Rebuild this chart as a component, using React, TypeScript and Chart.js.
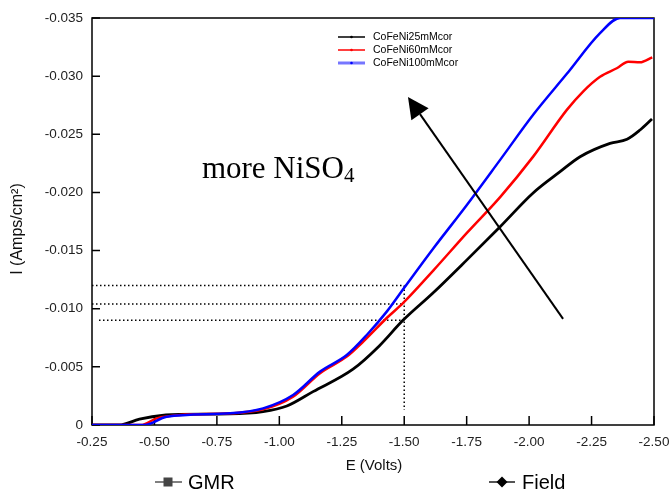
import React, { useEffect, useRef } from 'react';
import { Chart, registerables } from 'chart.js';

Chart.register(...registerables);

// ---------- data ----------
const seriesNames = ['CoFeNi25mMcor', 'CoFeNi60mMcor', 'CoFeNi100mMcor'];
const seriesColors = ['#000000', '#ff0000', '#0000ff'];

const e25 = [-0.25, -0.358, -0.44, -0.546, -0.6, -0.8, -0.935, -1.03, -1.135, -1.295, -1.4, -1.495, -1.615, -1.751, -1.884, -2.016, -2.124, -2.204, -2.324, -2.392, -2.444, -2.492];
const i25 = [0, 0, -0.0005, -0.00086, -0.00092, -0.00095, -0.00115, -0.00163, -0.00287, -0.0048, -0.0068, -0.009, -0.01135, -0.0142, -0.01705, -0.01995, -0.02178, -0.02307, -0.02422, -0.02457, -0.02537, -0.02632];

const e60 = [-0.25, -0.445, -0.509, -0.602, -0.803, -0.935, -1.055, -1.163, -1.27, -1.336, -1.43, -1.496, -1.617, -1.75, -1.884, -2.017, -2.151, -2.217, -2.284, -2.351, -2.397, -2.444, -2.493];
const i60 = [0, 0, -0.00057, -0.00086, -0.001, -0.00135, -0.00244, -0.00446, -0.00588, -0.00717, -0.0092, -0.0105, -0.0133, -0.0165, -0.0196, -0.0231, -0.0271, -0.0287, -0.02995, -0.03068, -0.03124, -0.03119, -0.03162];

const e100 = [-0.25, -0.46, -0.549, -0.803, -0.935, -1.055, -1.163, -1.27, -1.35, -1.43, -1.5, -1.617, -1.75, -1.884, -2.017, -2.151, -2.284, -2.364, -2.5];
const i100 = [0, 0, -0.00071, -0.001, -0.00143, -0.00258, -0.00459, -0.00602, -0.00774, -0.00975, -0.0118, -0.0152, -0.0189, -0.0228, -0.0267, -0.0302, -0.0337, -0.035, -0.035];

const xMin = -2.5;
const xMax = -0.25;
const xStep = 0.25;
const yMin = -0.035;
const yMax = 0;
const yStep = 0.005;

const xTitle = 'E (Volts)';
const yTitle = 'I (Amps/cm²)';

// dotted guide lines
const guideE = -1.5;
const guideLevels = [-0.012, -0.0104, -0.009];
const guideStarts = [-0.25, -0.25, -0.278];
const guideBottom = -0.0013;

// arrow annotation (data coords)
const arrowTail = [-2.136, -0.00912];
const arrowTip = [-1.515, -0.02821];

const noteMain = 'more NiSO';
const noteSub = '4';
const notePos = [-0.69, -0.02124];

const bottomLegend = ['GMR', 'Field'];

const FONT = '"Liberation Sans", Arial, sans-serif';

const makeSeries = (xs: number[], ys: number[]) => xs.map((v, k) => ({ x: v, y: ys[k] }));

const decor = {
  id: 'decor',
  beforeDatasetsDraw(chart: any) {
    const { ctx, chartArea: a, scales } = chart;
    const x = scales.x;
    const y = scales.y;
    ctx.save();
    ctx.strokeStyle = '#000';
    ctx.lineWidth = 1.5;
    ctx.strokeRect(a.left, a.top, a.right - a.left, a.bottom - a.top);
    ctx.beginPath();
    x.ticks.forEach((t: any) => {
      const px = x.getPixelForValue(t.value);
      ctx.moveTo(px, a.bottom);
      ctx.lineTo(px, a.bottom - 9);
    });
    y.ticks.forEach((t: any) => {
      const py = y.getPixelForValue(t.value);
      ctx.moveTo(a.left, py);
      ctx.lineTo(a.left + 8, py);
    });
    ctx.stroke();
    ctx.setLineDash([1.5, 2.5]);
    ctx.lineWidth = 1.5;
    ctx.beginPath();
    const gx = x.getPixelForValue(guideE);
    guideLevels.forEach((lv, k) => {
      const py = y.getPixelForValue(lv);
      ctx.moveTo(x.getPixelForValue(guideStarts[k]), py);
      ctx.lineTo(gx, py);
    });
    ctx.moveTo(gx, y.getPixelForValue(Math.min(...guideLevels)));
    ctx.lineTo(gx, y.getPixelForValue(guideBottom));
    ctx.stroke();
    ctx.restore();
  },
  afterDatasetsDraw(chart: any) {
    const { ctx, chartArea: a, scales } = chart;
    const x = scales.x;
    const y = scales.y;
    ctx.save();
    // arrow
    const tx = x.getPixelForValue(arrowTail[0]);
    const ty = y.getPixelForValue(arrowTail[1]);
    const hx = x.getPixelForValue(arrowTip[0]);
    const hy = y.getPixelForValue(arrowTip[1]);
    const ang = Math.atan2(hy - ty, hx - tx);
    const headLen = 21;
    const headHalf = 10.5;
    const bx = hx - headLen * Math.cos(ang);
    const by = hy - headLen * Math.sin(ang);
    ctx.strokeStyle = '#000';
    ctx.fillStyle = '#000';
    ctx.lineWidth = 2;
    ctx.beginPath();
    ctx.moveTo(tx, ty);
    ctx.lineTo(bx, by);
    ctx.stroke();
    ctx.beginPath();
    ctx.moveTo(hx, hy);
    ctx.lineTo(bx + headHalf * Math.sin(ang), by - headHalf * Math.cos(ang));
    ctx.lineTo(bx - headHalf * Math.sin(ang), by + headHalf * Math.cos(ang));
    ctx.closePath();
    ctx.fill();

    // note text
    const nx = x.getPixelForValue(notePos[0]);
    const ny = y.getPixelForValue(notePos[1]);
    ctx.font = '31px "Liberation Serif", "Times New Roman", serif';
    ctx.textAlign = 'left';
    ctx.textBaseline = 'alphabetic';
    ctx.fillText(noteMain, nx, ny);
    const w = ctx.measureText(noteMain).width;
    ctx.font = '21px "Liberation Serif", "Times New Roman", serif';
    ctx.fillText(noteSub, nx + w, ny + 4);

    // top legend
    ctx.font = '10.5px ' + FONT;
    ctx.textBaseline = 'middle';
    seriesNames.forEach((name, k) => {
      const ly = 37 + k * 13;
      ctx.strokeStyle = k === 2 ? 'rgba(60,60,255,0.7)' : seriesColors[k];
      ctx.lineWidth = k === 2 ? 3 : 1.5;
      ctx.beginPath();
      ctx.moveTo(338, ly);
      ctx.lineTo(365, ly);
      ctx.stroke();
      ctx.fillStyle = seriesColors[k];
      ctx.beginPath();
      ctx.arc(351.5, ly, 1.3, 0, Math.PI * 2);
      ctx.fill();
      ctx.fillStyle = '#000';
      ctx.fillText(name, 373, ly);
    });

    // axis titles
    ctx.fillStyle = '#111';
    ctx.font = '15px ' + FONT;
    ctx.textAlign = 'center';
    ctx.textBaseline = 'middle';
    ctx.fillText(xTitle, (a.left + a.right) / 2 + 1, 466);
    ctx.save();
    ctx.translate(18, 229);
    ctx.rotate(-Math.PI / 2);
    ctx.font = '16px ' + FONT;
    ctx.fillText(yTitle, 0, 0);
    ctx.restore();

    // bottom legend (GMR / Field)
    ctx.lineWidth = 2;
    ctx.strokeStyle = '#808080';
    ctx.beginPath();
    ctx.moveTo(155, 482);
    ctx.lineTo(182, 482);
    ctx.stroke();
    ctx.fillStyle = '#444';
    ctx.fillRect(163.5, 477.5, 9, 9);
    ctx.strokeStyle = '#555';
    ctx.beginPath();
    ctx.moveTo(489, 482);
    ctx.lineTo(515, 482);
    ctx.stroke();
    ctx.fillStyle = '#000';
    ctx.beginPath();
    ctx.moveTo(502, 476.5);
    ctx.lineTo(507.5, 482);
    ctx.lineTo(502, 487.5);
    ctx.lineTo(496.5, 482);
    ctx.closePath();
    ctx.fill();
    ctx.font = '20px ' + FONT;
    ctx.textAlign = 'left';
    ctx.textBaseline = 'alphabetic';
    ctx.fillText(bottomLegend[0], 188, 489);
    ctx.fillText(bottomLegend[1], 522, 489);
    ctx.restore();
  },
};

export default function App() {
  const ref = useRef<HTMLCanvasElement | null>(null);
  useEffect(() => {
    if (!ref.current) return;
    const series = [makeSeries(e25, i25), makeSeries(e60, i60), makeSeries(e100, i100)];
    const chart = new Chart(ref.current, {
      type: 'line',
      data: {
        datasets: series.map((d, k) => ({
          label: seriesNames[k],
          data: d,
          borderColor: seriesColors[k],
          backgroundColor: seriesColors[k],
          borderWidth: k === 0 ? 2.8 : 2.5,
          pointRadius: 0,
          cubicInterpolationMode: 'monotone' as const,
          fill: false,
          order: 2 - k,
        })),
      },
      options: {
        responsive: false,
        animation: false,
        layout: { padding: { left: 0, right: 17, top: 18, bottom: 0 } },
        plugins: { legend: { display: false }, tooltip: { enabled: false } },
        scales: {
          x: {
            type: 'linear',
            min: xMin,
            max: xMax,
            reverse: true,
            grid: { display: false, drawTicks: false },
            border: { display: false },
            ticks: {
              stepSize: xStep,
              padding: 9,
              color: '#222',
              font: { family: FONT, size: 13.5 },
              maxRotation: 0,
              autoSkip: false,
              callback: (v: any) => Number(v).toFixed(2),
            },
            afterFit: (s: any) => {
              s.height = 66;
              s.paddingLeft = 0;
              s.paddingRight = 0;
            },
          },
          y: {
            type: 'linear',
            min: yMin,
            max: yMax,
            reverse: true,
            grid: { display: false, drawTicks: false },
            border: { display: false },
            ticks: {
              stepSize: yStep,
              padding: 9,
              color: '#222',
              font: { family: FONT, size: 13.5 },
              autoSkip: false,
              callback: (v: any) => (Math.abs(Number(v)) < 1e-9 ? '0' : Number(v).toFixed(3)),
            },
            afterFit: (s: any) => {
              s.width = 92;
              s.paddingTop = 0;
              s.paddingBottom = 0;
            },
          },
        },
      },
      plugins: [decor],
    });
    return () => chart.destroy();
  }, []);
  return (
    <div style={{ position: 'absolute', left: 0, top: 0, width: 671, height: 491, background: '#fff' }}>
      <canvas ref={ref} width={671} height={491} style={{ display: 'block' }} />
    </div>
  );
}
